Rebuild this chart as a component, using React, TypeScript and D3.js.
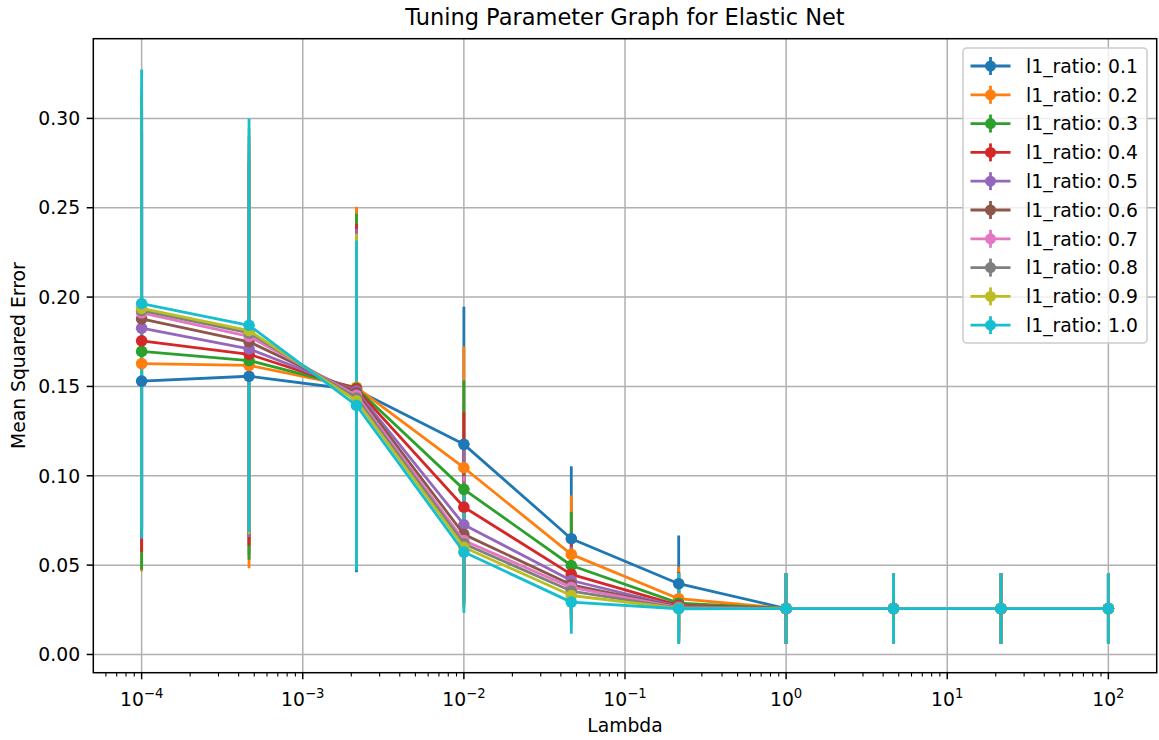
import React from "react";
import * as d3 from "d3";

// lambda grid (logspace -4 .. 2, 10 values)
const lambdas = [1e-4, 4.6416e-4, 2.1544e-3, 1e-2, 4.6416e-2, 0.21544, 1, 4.6416, 21.544, 100];
const l1Ratios = ["0.1", "0.2", "0.3", "0.4", "0.5", "0.6", "0.7", "0.8", "0.9", "1.0"];

// mean squared error per l1_ratio
const mse01 = [0.153, 0.1557, 0.148, 0.1176, 0.0648, 0.0396, 0.0257, 0.0257, 0.0257, 0.0257];
const mse02 = [0.1628, 0.1618, 0.1495, 0.1045, 0.056, 0.0312, 0.0257, 0.0257, 0.0257, 0.0257];
const mse03 = [0.1696, 0.1645, 0.149, 0.0924, 0.0498, 0.0287, 0.0257, 0.0257, 0.0257, 0.0257];
const mse04 = [0.1755, 0.168, 0.1485, 0.0825, 0.0448, 0.0275, 0.0257, 0.0257, 0.0257, 0.0257];
const mse05 = [0.1826, 0.171, 0.1475, 0.0726, 0.0414, 0.0268, 0.0257, 0.0257, 0.0257, 0.0257];
const mse06 = [0.1878, 0.175, 0.1465, 0.0672, 0.039, 0.0265, 0.0257, 0.0257, 0.0257, 0.0257];
const mse07 = [0.1912, 0.178, 0.145, 0.0638, 0.0375, 0.0262, 0.0257, 0.0257, 0.0257, 0.0257];
const mse08 = [0.1925, 0.18, 0.1435, 0.062, 0.0355, 0.026, 0.0257, 0.0257, 0.0257, 0.0257];
const mse09 = [0.1937, 0.1812, 0.142, 0.06, 0.033, 0.0258, 0.0257, 0.0257, 0.0257, 0.0257];
const mse10 = [0.1964, 0.1842, 0.1394, 0.0573, 0.0293, 0.0256, 0.0257, 0.0257, 0.0257, 0.0257];

// error bar half-lengths (std of cv scores)
const err01 = [0.095, 0.1, 0.102, 0.077, 0.0405, 0.027, 0.0197, 0.0197, 0.0197, 0.0197];
const err02 = [0.1162, 0.1135, 0.101, 0.068, 0.033, 0.018, 0.0197, 0.0197, 0.0197, 0.0197];
const err03 = [0.1222, 0.1115, 0.0977, 0.061, 0.03, 0.0175, 0.0197, 0.0197, 0.0197, 0.0197];
const err04 = [0.1182, 0.107, 0.0925, 0.053, 0.022, 0.0185, 0.0197, 0.0197, 0.0197, 0.0197];
const err05 = [0.118, 0.1053, 0.0907, 0.042, 0.019, 0.019, 0.0197, 0.0197, 0.0197, 0.0197];
const err06 = [0.118, 0.105, 0.0865, 0.038, 0.0185, 0.0192, 0.0197, 0.0197, 0.0197, 0.0197];
const err07 = [0.12, 0.108, 0.087, 0.036, 0.018, 0.0194, 0.0197, 0.0197, 0.0197, 0.0197];
const err08 = [0.122, 0.11, 0.089, 0.035, 0.018, 0.0195, 0.0197, 0.0197, 0.0197, 0.0197];
const err09 = [0.124, 0.1139, 0.0935, 0.034, 0.0178, 0.0196, 0.0197, 0.0197, 0.0197, 0.0197];
const err10 = [0.131, 0.1157, 0.0923, 0.034, 0.0177, 0.0197, 0.0197, 0.0197, 0.0197, 0.0197];

const xTickExps = [-4, -3, -2, -1, 0, 1, 2];
const yTicks = [0, 0.05, 0.1, 0.15, 0.2, 0.25, 0.3];

const allMse = [mse01, mse02, mse03, mse04, mse05, mse06, mse07, mse08, mse09, mse10];
const allErr = [err01, err02, err03, err04, err05, err06, err07, err08, err09, err10];

const W = 1159;
const H = 740;
const M = { left: 93.3, right: 1156.7, top: 38.7, bottom: 672.7 };
const FONT = "DejaVu Sans, sans-serif";

const series = l1Ratios.map((r, i) => ({
  label: `l1_ratio: ${r}`,
  color: d3.schemeCategory10[i],
  points: lambdas.map((lam, j) => ({ lam, v: allMse[i][j], e: allErr[i][j] })),
}));

export default function App() {
  const x = d3.scaleLog().domain([Math.pow(10, -4.3), Math.pow(10, 2.3)]).range([M.left, M.right]);
  const y = d3.scaleLinear().domain([-0.0102, 0.3446]).range([M.bottom, M.top]);

  const line = d3
    .line<{ lam: number; v: number }>()
    .x((d) => x(d.lam))
    .y((d) => y(d.v));

  // minor ticks 2..9 per decade
  const minor: number[] = [];
  for (let p = -5; p <= 2; p++) {
    for (let k = 2; k <= 9; k++) {
      const v = k * Math.pow(10, p);
      const px = x(v);
      if (px >= M.left && px <= M.right) minor.push(v);
    }
  }

  const legX = 963;
  const legY = 48;
  const rowH = 28.8;
  const legW = 184;
  const legH = rowH * series.length + 7;

  return (
    <div style={{ position: "fixed", left: 0, top: 0 }}>
      <svg width={W} height={H} style={{ display: "block", background: "#fff" }} fontFamily={FONT}>
        {/* grid */}
        <g stroke="#b0b0b0" strokeWidth={1.5}>
          {xTickExps.map((p) => (
            <line key={p} x1={x(Math.pow(10, p))} x2={x(Math.pow(10, p))} y1={M.top} y2={M.bottom} />
          ))}
          {yTicks.map((t) => (
            <line key={t} x1={M.left} x2={M.right} y1={y(t)} y2={y(t)} />
          ))}
        </g>

        {/* error bars, below all lines */}
        {series.map((s) => (
          <g key={s.label + "err"} stroke={s.color} strokeWidth={2.8}>
            {s.points.map((d, j) => (
              <line key={j} x1={x(d.lam)} x2={x(d.lam)} y1={y(d.v - d.e)} y2={y(d.v + d.e)} />
            ))}
          </g>
        ))}

        {/* lines + markers */}
        {series.map((s) => (
          <g key={s.label}>
            <path d={line(s.points) || ""} fill="none" stroke={s.color} strokeWidth={2.8} strokeLinejoin="round" />
            {s.points.map((d, j) => (
              <circle key={j} cx={x(d.lam)} cy={y(d.v)} r={5.8} fill={s.color} />
            ))}
          </g>
        ))}

        {/* spines */}
        <rect x={M.left} y={M.top} width={M.right - M.left} height={M.bottom - M.top} fill="none" stroke="#000" strokeWidth={1.5} />

        {/* x ticks */}
        <g stroke="#000">
          {xTickExps.map((p) => (
            <line key={p} x1={x(Math.pow(10, p))} x2={x(Math.pow(10, p))} y1={M.bottom} y2={M.bottom + 6.6} strokeWidth={1.5} />
          ))}
          {minor.map((v) => (
            <line key={v} x1={x(v)} x2={x(v)} y1={M.bottom} y2={M.bottom + 3.8} strokeWidth={1.1} />
          ))}
          {yTicks.map((t) => (
            <line key={t} x1={M.left - 6.6} x2={M.left} y1={y(t)} y2={y(t)} strokeWidth={1.5} />
          ))}
        </g>
        <g fontSize={18.75} fill="#000">
          {xTickExps.map((p) => (
            <text key={p} x={x(Math.pow(10, p))} y={706} textAnchor="middle">
              10
              <tspan fontSize={13.2} dy={-8.5}>
                {p < 0 ? "\u2212" + Math.abs(p) : String(p)}
              </tspan>
            </text>
          ))}
          {yTicks.map((t) => (
            <text key={t} x={M.left - 13.2} y={y(t)} dy="0.36em" textAnchor="end">
              {d3.format(".2f")(t)}
            </text>
          ))}
        </g>

        {/* labels */}
        <text x={(M.left + M.right) / 2} y={732} textAnchor="middle" fontSize={18.75}>
          Lambda
        </text>
        <text transform={`translate(25,${(M.top + M.bottom) / 2}) rotate(-90)`} textAnchor="middle" fontSize={18.75}>
          Mean Squared Error
        </text>
        <text x={(M.left + M.right) / 2} y={25} textAnchor="middle" fontSize={22.5}>
          Tuning Parameter Graph for Elastic Net
        </text>

        {/* legend */}
        <g>
          <rect x={legX} y={legY} width={legW} height={legH} rx={3.75} fill="#fff" fillOpacity={0.8} stroke="#cccccc" strokeWidth={1.5} />
          {series.map((s, i) => {
            const cy = legY + 18 + i * rowH;
            const hx = legX + 7.5;
            return (
              <g key={s.label}>
                <line x1={hx} x2={hx + 40} y1={cy} y2={cy} stroke={s.color} strokeWidth={2.8} />
                <line x1={hx + 20} x2={hx + 20} y1={cy - 9} y2={cy + 9} stroke={s.color} strokeWidth={2.8} />
                <circle cx={hx + 20} cy={cy} r={5.5} fill={s.color} />
                <text x={hx + 55.5} y={cy} dy="0.36em" fontSize={18.75} fill="#000">
                  {s.label}
                </text>
              </g>
            );
          })}
        </g>
      </svg>
    </div>
  );
}
